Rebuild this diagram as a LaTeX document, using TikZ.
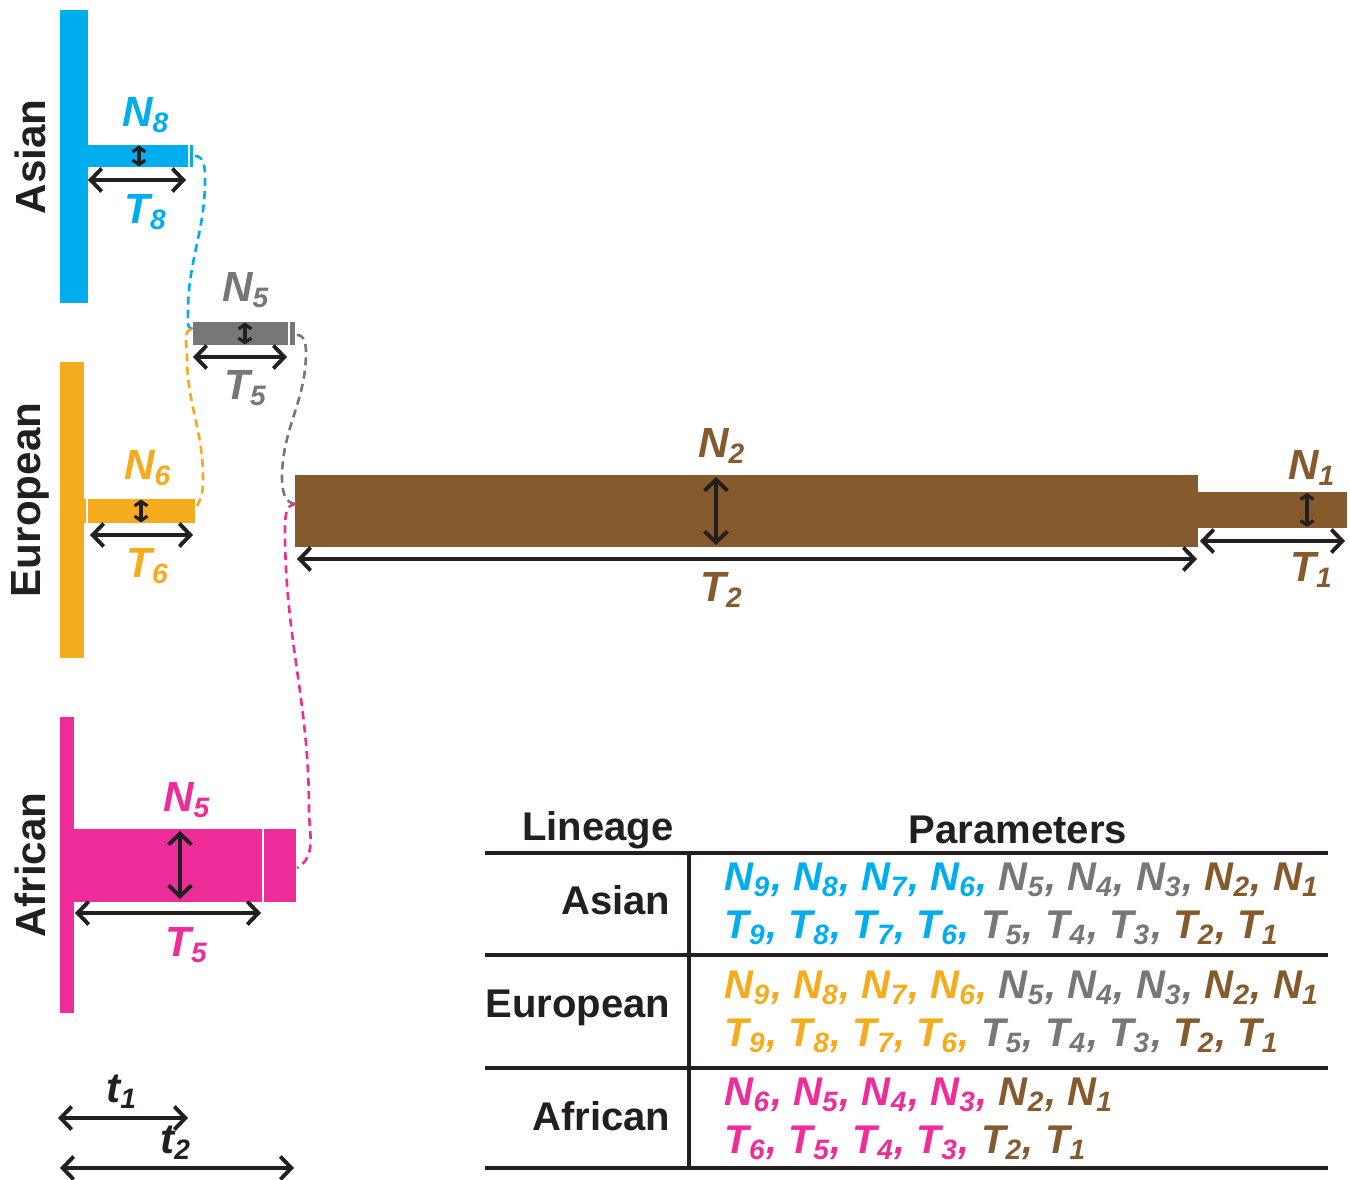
\documentclass[tikz,border=0pt]{standalone}
\usepackage{fontspec}
\setmainfont{Liberation Sans}
\usetikzlibrary{arrows.meta}
\definecolor{asia}{HTML}{00AEEF}
\definecolor{euro}{HTML}{F5AB1E}
\definecolor{anc}{HTML}{777777}
\definecolor{root}{HTML}{855B2D}
\definecolor{afr}{HTML}{EE2D9B}
\definecolor{ink}{HTML}{231F20}
\newcommand\parm[2]{#1\textsubscript{#2}}
\tikzset{
  dimarrow/.style={ink,line width=1.1pt,{Straight Barb[length=1.1mm,width=2.3mm]}-{Straight Barb[length=1.1mm,width=2.3mm]}},
  dimsmall/.style={ink,line width=0.9pt,{Straight Barb[length=0.45mm,width=1.3mm]}-{Straight Barb[length=0.45mm,width=1.3mm]}},
  link/.style={line width=0.75pt,dash pattern=on 2.3pt off 1.5pt},
  lbl/.style={font=\fontsize{12}{14}\selectfont\bfseries\itshape},
  pop/.style={font=\fontsize{12}{14}\selectfont\bfseries,text=ink},
  tabhead/.style={font=\fontsize{11.4}{13}\selectfont\bfseries,text=ink,inner sep=0pt},
  tabrow/.style={font=\fontsize{11.4}{13}\selectfont\bfseries\itshape,anchor=west,inner sep=0pt},
}

\begin{document}
\begin{tikzpicture}[x=0.1mm,y=-0.1mm]
\useasboundingbox (0,0) rectangle (1350,1180);
% Asian branch
\fill[asia] (60,10) rectangle (88,303);
\fill[asia] (88,145) rectangle (188,167);
\fill[asia] (190,145) rectangle (193,167);
\draw[dimsmall] (139,145.5) -- (139,166.5);
\draw[dimarrow] (88,180) -- (186,180);
\node[lbl,text=asia] (n8) at (146,115) {\parm N8};
\node[lbl,text=asia] (t8) at (146,212) {\parm T8};
\node[pop,rotate=90] (asia) at (30,157) {Asian};
% ancestral Eurasian branch
\fill[anc] (193,322) rectangle (288,345);
\fill[anc] (290,322) rectangle (295,345);
\draw[dimsmall] (245,322.5) -- (245,344.5);
\draw[dimarrow] (193,357) -- (287,357);
\node[lbl,text=anc] (n5a) at (246,290) {\parm N5};
\node[lbl,text=anc] (t5a) at (246,388) {\parm T5};
% European branch
\fill[euro] (60,362) rectangle (84,658);
\fill[euro] (84,499) rectangle (86,523);
\fill[euro] (88,499) rectangle (195,523);
\draw[dimsmall] (141,499.5) -- (141,522.5);
\draw[dimarrow] (90,535) -- (193,535);
\node[lbl,text=euro] (n6) at (148,468) {\parm N6};
\node[lbl,text=euro] (t6) at (148,566) {\parm T6};
\node[pop,rotate=90] (euro) at (30,500) {European};
% African branch
\fill[afr] (60,717) rectangle (74,1013);
\fill[afr] (74,829) rectangle (262,902);
\fill[afr] (264,829) rectangle (296,902);
\draw[dimarrow] (180,831) -- (180,899);
\draw[dimarrow] (75,913) -- (261,913);
\node[lbl,text=afr] (n5b) at (187,800) {\parm N5};
\node[lbl,text=afr] (t5b) at (187,945) {\parm T5};
\node[pop,rotate=90] (afri) at (30,865) {African};
% ancestral root
\fill[root] (295,475) rectangle (1198,547);
\fill[root] (1198,492) rectangle (1347,528);
\draw[dimarrow] (716,477) -- (716,545);
\draw[dimarrow] (297,559) -- (1197,559);
\draw[dimsmall] (1307,493) -- (1307,527);
\draw[dimarrow] (1200,541) -- (1345,541);
\node[lbl,text=root] (n2) at (722,446) {\parm N2};
\node[lbl,text=root] (t2) at (722,590) {\parm T2};
\node[lbl,text=root] (n1) at (1312,468) {\parm N1};
\node[lbl,text=root] (t1) at (1312,570) {\parm T1};
% dashed joins
\coordinate (asR) at (195,156);
\coordinate (anL) at (193,329);
\coordinate (euR) at (197,506);
\coordinate (anR) at (297,335);
\coordinate (rtL) at (296,504);
\coordinate (afR) at (297,868);
\draw[link,asia] (asR) to[out=0,in=90] (205,180) to[out=-90,in=90] (188,312) to[out=-90,in=180] (anL);
\draw[link,euro] (euR) to[out=60,in=-90] (203,478) to[out=90,in=-90] (187,356) to[out=90,in=180] (anL);
\draw[link,anc] (anR) to[out=0,in=90] (306,352) to[out=-90,in=90] (282,478) to[out=-90,in=180] (rtL);
\draw[link,afr] (rtL) to[out=180,in=90] (285,530) to[out=-90,in=90] (309,810) to[out=-90,in=30] (afR);
% time scale
\draw[dimarrow] (58,1118) -- (188,1118);
\draw[dimarrow] (60,1168) -- (294,1168);
\node[lbl,text=ink] (tt1) at (122,1092) {\parm t1};
\node[lbl,text=ink] (tt2) at (176,1143) {\parm t2};
% table
\draw[ink,line width=1.2pt] (485,853) -- (1328,853);
\draw[ink,line width=1.2pt] (485,955) -- (1328,955);
\draw[ink,line width=1.2pt] (485,1068) -- (1328,1068);
\draw[ink,line width=1.2pt] (485,1168) -- (1328,1168);
\draw[ink,line width=1pt] (689,853) -- (689,1168);
\node[tabhead] (hlin) at (598,830) {Lineage};
\node[tabhead] (hpar) at (1018,830) {Parameters};
\node[tabhead,anchor=east] (rasia) at (671,900) {Asian};
\node[tabhead,anchor=east] (reuro) at (671,1008) {European};
\node[tabhead,anchor=east] (rafri) at (671,1116) {African};
\node[tabrow] (pan) at (724,880) {\color{asia}\parm N9, \parm N8, \parm N7, \parm N6, \color{anc}\parm N5, \parm N4, \parm N3, \color{root}\parm N2, \parm N1};
\node[tabrow] (pat) at (724,928) {\color{asia}\parm T9, \parm T8, \parm T7, \parm T6, \color{anc}\parm T5, \parm T4, \parm T3, \color{root}\parm T2, \parm T1};
\node[tabrow] (pen) at (724,988) {\color{euro}\parm N9, \parm N8, \parm N7, \parm N6, \color{anc}\parm N5, \parm N4, \parm N3, \color{root}\parm N2, \parm N1};
\node[tabrow] (pet) at (724,1036) {\color{euro}\parm T9, \parm T8, \parm T7, \parm T6, \color{anc}\parm T5, \parm T4, \parm T3, \color{root}\parm T2, \parm T1};
\node[tabrow] (pfn) at (724,1095) {\color{afr}\parm N6, \parm N5, \parm N4, \parm N3, \color{root}\parm N2, \parm N1};
\node[tabrow] (pft) at (724,1143) {\color{afr}\parm T6, \parm T5, \parm T4, \parm T3, \color{root}\parm T2, \parm T1};
\end{tikzpicture}
\end{document}
